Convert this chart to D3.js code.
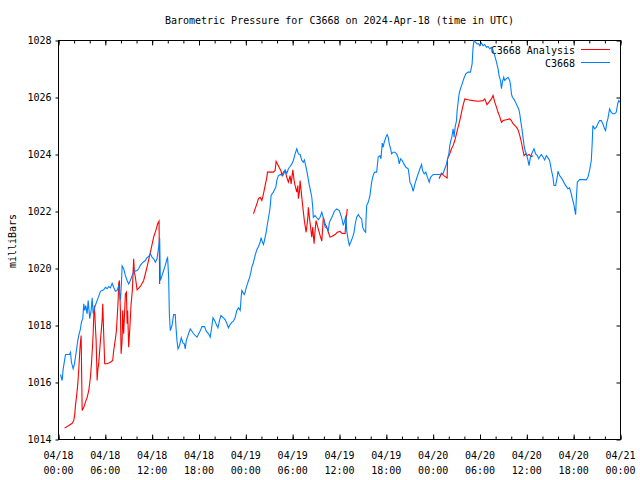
<!DOCTYPE html>
<html>
<head>
<meta charset="utf-8">
<script src="https://cdn.jsdelivr.net/npm/d3@7"></script>
<style>
  html, body { margin: 0; padding: 0; background: #fff; }
  svg { display: block; }
  text { font-family: "DejaVu Sans Mono", "Liberation Mono", monospace; font-size: 10px; fill: #000; }
</style>
</head>
<body>
<svg id="chart" width="640" height="480"></svg>
<script>
// ---- Data (hours since 2024-04-18 00:00 UTC, millibars) ----
const title = "Barometric Pressure for C3668 on 2024-Apr-18 (time in UTC)";
const yLabel = "milliBars";
const seriesNames = ["C3668 Analysis", "C3668"];
const yTicks = [1014, 1016, 1018, 1020, 1022, 1024, 1026, 1028];
const startTime = "2024-04-18T00:00:00Z";
const endHours = 72;

const stationData = [
[0.26,1016.28],[0.47,1016.07],[0.60,1016.48],[0.77,1016.77],[0.90,1016.98],[1.41,1016.98],[1.54,1017.06],[1.66,1016.71],
[1.88,1016.48],[2.05,1016.66],[2.26,1017.06],[2.47,1017.47],[2.60,1017.65],[2.81,1017.88],[2.94,1018.12],[3.11,1018.24],
[3.24,1018.76],[3.36,1018.53],[3.49,1018.70],[3.67,1018.41],[3.80,1018.88],[4.00,1018.24],[4.18,1018.53],[4.31,1018.97],
[4.44,1018.41],[4.64,1018.64],[4.95,1018.88],[5.15,1019.02],[5.37,1019.20],[5.59,1019.23],[5.79,1019.25],[6.01,1019.34],
[6.23,1019.29],[6.43,1019.37],[6.65,1019.32],[6.87,1019.48],[7.07,1019.34],[7.29,1019.20],[7.51,1019.23],[7.71,1019.40],
[7.93,1018.88],[8.06,1019.46],[8.15,1020.09],[8.35,1019.99],[8.57,1019.75],[8.79,1019.58],[8.99,1019.46],[9.21,1019.58],
[9.43,1019.75],[9.63,1019.87],[9.85,1019.91],[10.07,1019.93],[10.27,1019.99],[10.49,1020.11],[10.70,1020.19],[11.13,1020.28],
[11.34,1020.38],[11.55,1020.42],[11.77,1020.52],[11.98,1020.40],[12.19,1020.34],[12.41,1020.22],[12.62,1020.34],[12.83,1020.75],
[12.96,1021.08],[13.05,1019.58],[13.26,1019.75],[13.47,1019.93],[13.68,1020.11],[13.90,1020.34],[13.98,1020.38],[14.11,1019.69],
[14.20,1018.42],[14.32,1017.82],[14.54,1018.00],[14.75,1018.38],[14.96,1018.38],[15.05,1017.94],[15.18,1017.47],[15.31,1017.18],
[15.51,1017.30],[15.73,1017.57],[15.95,1017.38],[16.11,1017.36],[16.24,1017.18],[16.37,1017.47],[16.66,1017.71],[16.88,1017.88],
[17.10,1017.80],[17.30,1017.71],[17.74,1017.59],[18.07,1017.76],[18.38,1017.96],[18.71,1017.96],[18.93,1017.80],[19.22,1017.71],
[19.44,1017.59],[19.66,1018.00],[19.79,1018.27],[19.99,1018.18],[20.21,1018.04],[20.42,1017.92],[20.63,1018.18],[20.81,1018.35],
[21.14,1018.27],[21.36,1018.20],[21.58,1018.06],[21.78,1017.92],[22.00,1018.04],[22.22,1018.12],[22.42,1018.15],[22.64,1018.29],
[22.85,1018.53],[23.06,1018.62],[23.28,1018.53],[23.40,1018.99],[23.49,1019.23],[23.62,1019.17],[23.79,1019.09],[23.92,1019.17],
[24.04,1019.32],[24.21,1019.46],[24.34,1019.58],[24.47,1019.67],[24.65,1019.87],[24.77,1020.05],[24.98,1020.22],[25.19,1020.46],
[25.41,1020.66],[25.62,1020.77],[25.83,1020.92],[25.96,1021.08],[26.13,1020.92],[26.26,1020.84],[26.38,1020.98],[26.60,1021.27],
[26.77,1021.57],[26.99,1021.92],[27.11,1022.15],[27.24,1022.56],[27.41,1022.64],[27.53,1022.68],[27.66,1022.76],[27.84,1022.85],
[27.97,1023.09],[28.17,1023.26],[28.48,1023.30],[28.74,1023.26],[28.90,1023.34],[29.03,1023.46],[29.25,1023.34],[29.45,1023.50],
[29.67,1023.58],[29.89,1023.67],[30.09,1023.79],[30.31,1024.02],[30.53,1024.20],[30.73,1024.02],[30.95,1024.00],[31.17,1023.79],
[31.37,1023.73],[31.50,1023.81],[31.72,1023.55],[31.88,1023.32],[32.10,1022.97],[32.23,1022.80],[32.45,1022.50],[32.57,1022.15],
[32.65,1021.80],[32.87,1021.86],[33.09,1021.78],[33.29,1021.71],[33.51,1021.80],[33.73,1021.98],[33.93,1021.78],[34.15,1021.45],
[34.36,1021.43],[34.57,1021.33],[34.70,1021.62],[34.91,1021.74],[35.13,1021.86],[35.34,1022.01],[35.64,1022.09],[35.98,1022.03],
[36.28,1021.78],[36.49,1021.51],[36.67,1021.68],[36.83,1021.86],[36.92,1021.33],[37.13,1020.98],[37.26,1020.81],[37.43,1020.92],
[37.69,1021.10],[37.86,1021.27],[38.02,1021.57],[38.20,1021.80],[38.41,1021.89],[38.62,1021.80],[38.84,1021.74],[38.97,1021.45],
[39.17,1021.33],[39.35,1021.27],[39.39,1021.68],[39.48,1022.21],[39.69,1022.33],[39.90,1022.56],[40.12,1023.03],[40.25,1023.20],
[40.41,1023.34],[40.54,1023.38],[40.76,1023.38],[40.96,1023.91],[41.18,1023.96],[41.31,1023.85],[41.48,1024.40],[41.60,1024.26],
[41.73,1024.43],[41.95,1024.61],[42.11,1024.70],[42.24,1024.61],[42.37,1024.38],[42.55,1024.20],[42.68,1024.02],[42.88,1024.08],
[43.10,1024.08],[43.32,1024.02],[43.52,1023.88],[43.65,1023.67],[43.83,1023.85],[44.03,1023.79],[44.25,1023.67],[44.51,1023.55],
[44.80,1023.50],[44.93,1023.26],[45.02,1023.03],[45.24,1022.91],[45.44,1022.71],[45.66,1022.97],[45.87,1023.15],[46.08,1023.32],
[46.30,1023.50],[46.51,1023.65],[46.64,1023.44],[46.85,1023.32],[47.06,1023.38],[47.23,1023.23],[47.49,1023.03],[47.67,1023.20],
[48.00,1023.30],[48.43,1023.30],[48.85,1023.30],[49.28,1023.34],[49.49,1023.50],[49.71,1023.67],[49.84,1023.85],[50.01,1024.02],
[50.13,1024.32],[50.26,1024.49],[50.39,1024.61],[50.56,1024.90],[50.68,1024.61],[50.81,1024.96],[50.99,1025.19],[51.07,1025.54],
[51.20,1025.84],[51.32,1026.13],[51.50,1026.31],[51.71,1026.48],[51.92,1026.66],[52.18,1026.83],[52.47,1026.89],[52.78,1026.89],
[52.99,1027.18],[53.11,1027.76],[53.24,1028.00],[53.42,1027.94],[53.63,1027.88],[53.84,1027.88],[53.97,1027.82],[54.19,1027.91],
[54.39,1027.82],[54.61,1027.86],[54.83,1027.76],[55.03,1027.79],[55.25,1027.71],[55.47,1027.76],[55.67,1027.65],[55.89,1027.47],
[56.11,1027.24],[56.31,1027.01],[56.44,1026.77],[56.62,1026.60],[56.75,1026.31],[56.87,1026.54],[57.04,1026.71],[57.17,1026.60],
[57.39,1026.66],[57.59,1026.71],[57.81,1026.60],[57.94,1026.36],[58.03,1026.13],[58.15,1026.01],[58.32,1025.95],[58.54,1025.84],
[58.74,1025.72],[58.96,1025.60],[59.09,1025.43],[59.21,1025.19],[59.34,1024.96],[59.51,1024.61],[59.64,1024.32],[59.77,1024.14],
[59.94,1024.02],[60.15,1023.79],[60.28,1023.61],[60.46,1023.91],[60.71,1024.08],[60.92,1024.20],[61.13,1024.02],[61.35,1023.96],
[61.52,1023.85],[61.64,1023.91],[61.86,1024.00],[62.07,1023.91],[62.28,1023.81],[62.50,1023.96],[62.71,1023.88],[62.92,1023.79],
[63.14,1023.46],[63.35,1023.20],[63.47,1022.91],[63.69,1022.91],[63.86,1023.15],[63.99,1023.41],[64.20,1023.26],[64.42,1023.18],
[64.63,1023.09],[64.84,1022.97],[65.06,1022.88],[65.26,1022.80],[65.48,1022.83],[65.70,1022.62],[65.83,1022.45],[65.99,1022.29],
[66.12,1022.09],[66.25,1021.89],[66.34,1022.45],[66.47,1023.03],[66.76,1023.12],[67.18,1023.12],[67.62,1023.11],[67.82,1023.20],
[68.04,1023.44],[68.26,1023.79],[68.38,1024.43],[68.46,1025.02],[68.68,1024.90],[68.90,1024.96],[69.10,1025.08],[69.32,1025.19],
[69.54,1025.19],[69.74,1025.08],[69.96,1024.90],[70.09,1024.84],[70.25,1025.13],[70.38,1025.25],[70.60,1025.60],[70.82,1025.48],
[71.02,1025.43],[71.24,1025.43],[71.45,1025.48],[71.66,1025.80],[71.79,1025.89],[71.97,1025.83]
];

const analysisPart1 = [
[0.77,1014.40],[1.32,1014.49],[1.75,1014.57],[1.96,1014.67],[2.09,1014.90],[2.17,1015.19],[2.30,1015.48],[2.47,1015.95],
[2.60,1016.48],[2.72,1017.06],[2.81,1017.41],[2.90,1017.65],[3.03,1015.02],[3.24,1015.13],[3.45,1015.31],[3.67,1015.48],
[3.88,1015.72],[4.09,1016.19],[4.22,1016.66],[4.35,1017.24],[4.44,1017.71],[4.51,1018.29],[4.60,1018.70],[4.73,1017.94],
[4.82,1017.47],[4.95,1016.07],[5.03,1016.42],[5.15,1016.66],[5.37,1017.47],[5.59,1018.18],[5.67,1018.76],[5.79,1017.71],
[5.92,1016.66],[6.23,1016.66],[6.65,1016.71],[6.94,1016.77],[7.07,1017.12],[7.29,1017.53],[7.42,1017.82],[7.51,1018.24],
[7.64,1018.88],[7.71,1019.46],[7.80,1019.58],[7.93,1018.53],[8.02,1017.01],[8.15,1017.47],[8.22,1018.53],[8.35,1017.71],
[8.57,1019.11],[8.70,1019.17],[8.79,1018.06],[8.86,1018.53],[8.99,1017.24],[9.12,1017.82],[9.30,1018.76],[9.46,1019.23],
[9.63,1020.34],[9.72,1019.87],[9.85,1019.69],[10.07,1019.25],[10.49,1019.37],[10.91,1019.58],[11.34,1020.05],[11.77,1020.57],
[12.19,1021.10],[12.53,1021.39],[12.70,1021.57],[12.88,1021.66],[12.96,1019.46]
];

const analysisPart2 = [
[24.98,1021.92],[25.19,1022.09],[25.41,1022.27],[25.62,1022.45],[25.83,1022.50],[26.05,1022.39],[26.26,1022.62],[26.47,1022.91],
[26.69,1023.20],[26.77,1023.38],[27.11,1023.38],[27.53,1023.38],[27.75,1023.44],[27.88,1023.76],[28.05,1023.67],[28.26,1023.55],
[28.48,1023.44],[28.65,1023.26],[28.81,1023.38],[29.03,1023.44],[29.25,1023.20],[29.45,1023.03],[29.67,1023.26],[29.80,1022.97],
[30.02,1023.46],[30.18,1023.09],[30.31,1022.91],[30.53,1022.68],[30.66,1022.91],[30.73,1022.45],[30.86,1022.68],[30.95,1023.09],
[31.08,1022.74],[31.21,1022.39],[31.37,1021.98],[31.50,1021.68],[31.72,1021.27],[31.93,1021.74],[32.01,1022.15],[32.14,1021.80],
[32.32,1021.39],[32.45,1021.10],[32.57,1021.45],[32.74,1020.87],[32.87,1021.33],[33.00,1021.68],[33.16,1021.51],[33.34,1021.33],
[33.51,1021.16],[33.73,1020.96],[33.85,1021.45],[33.93,1021.80],[34.15,1021.57],[34.36,1021.45],[34.57,1021.27],[34.79,1021.10],
[35.00,1021.12],[35.43,1021.19],[35.72,1021.27],[36.07,1021.30],[36.28,1021.24],[36.71,1021.22],[36.83,1021.68],[37.00,1022.09]
];

const analysisPart3 = [
[48.76,1023.15],[49.07,1023.34],[49.37,1023.26],[49.79,1023.18],[49.84,1023.85],[50.04,1023.96],[50.35,1024.20],[50.56,1024.32],
[50.77,1024.49],[50.99,1024.73],[51.19,1024.96],[51.41,1025.19],[51.63,1025.48],[51.83,1025.72],[52.05,1025.95],[52.47,1025.92],
[53.11,1025.89],[53.75,1025.87],[54.39,1025.89],[54.61,1025.95],[54.90,1025.75],[55.16,1025.84],[55.47,1025.95],[55.67,1026.07],
[55.89,1025.84],[56.11,1025.66],[56.31,1025.48],[56.53,1025.33],[56.75,1025.13],[56.95,1025.19],[57.38,1025.22],[57.81,1025.25],
[58.02,1025.19],[58.23,1025.08],[58.45,1025.02],[58.66,1024.96],[58.87,1024.87],[59.09,1024.67],[59.30,1024.43],[59.51,1024.14],
[59.64,1023.96],[59.85,1024.02],[60.02,1023.96],[60.28,1024.00],[60.58,1023.93],[60.79,1023.96]
];

const colors = { analysis: "#ff0000", station: "#0080ff" };

// ---- Drawing ----
const svg = d3.select("#chart");
const W = 640, H = 480;
const plot = { left: 58.5, right: 620.5, top: 40.5, bottom: 439.5 };

const t0 = new Date(startTime);
const toDate = h => new Date(t0.getTime() + h * 3600000);

const x = d3.scaleUtc().domain([t0, toDate(endHours)]).range([plot.left, plot.right]);
const y = d3.scaleLinear().domain([1014, 1028]).range([plot.bottom, plot.top]);

svg.append("rect").attr("width", W).attr("height", H).attr("fill", "#fff");

svg.append("defs").append("clipPath").attr("id", "clip")
  .append("rect").attr("x", plot.left).attr("y", plot.top - 1)
  .attr("width", plot.right - plot.left).attr("height", plot.bottom - plot.top + 1);

// Title
svg.append("text").attr("x", (plot.left + plot.right) / 2).attr("y", 24)
  .attr("text-anchor", "middle").text(title);

// Y axis label
svg.append("text").attr("transform", "translate(16,241) rotate(-90)")
  .attr("text-anchor", "middle").text(yLabel);

const majorTimes = d3.range(0, endHours + 1, 6).map(toDate);
const minorTimes = d3.range(0, endHours + 1, 2).map(toDate);

// Bottom axis (ticks inward), labels two lines
const bottomAxis = d3.axisBottom(x).tickValues(minorTimes).tickSize(-3).tickFormat("");
const gB = svg.append("g").attr("transform", `translate(0,${plot.bottom})`).call(bottomAxis);
const bottomMajor = d3.axisBottom(x).tickValues(majorTimes).tickSize(-5).tickFormat("");
const gBM = svg.append("g").attr("transform", `translate(0,${plot.bottom})`).call(bottomMajor);
[gB, gBM].forEach(g => { g.select(".domain").remove(); g.selectAll("line").attr("stroke", "#000"); });

const fmtDate = d3.utcFormat("%m/%d"), fmtTime = d3.utcFormat("%H:%M");
const labels = svg.append("g");
majorTimes.forEach(d => {
  const t = labels.append("text").attr("text-anchor", "middle").attr("x", x(d));
  t.append("tspan").attr("x", x(d)).attr("y", 459).text(fmtDate(d));
  t.append("tspan").attr("x", x(d)).attr("y", 474).text(fmtTime(d));
});

// Top axis (ticks inward)
const topAxis = d3.axisTop(x).tickValues(minorTimes).tickSize(-3).tickFormat("");
const gT = svg.append("g").attr("transform", `translate(0,${plot.top})`).call(topAxis);
const topMajor = d3.axisTop(x).tickValues(majorTimes).tickSize(-5).tickFormat("");
const gTM = svg.append("g").attr("transform", `translate(0,${plot.top})`).call(topMajor);
[gT, gTM].forEach(g => { g.select(".domain").remove(); g.selectAll("line").attr("stroke", "#000"); });

// Left axis
const leftAxis = d3.axisLeft(y).tickValues(yTicks).tickSize(3).tickPadding(4).tickFormat(d3.format("d"));
const gL = svg.append("g").attr("transform", `translate(${plot.left},0)`).call(leftAxis);
gL.select(".domain").remove();
gL.selectAll("line").attr("stroke", "#000");
gL.selectAll("text").attr("font-family", null).attr("font-size", null).attr("fill", "#000");

// Right axis (ticks inward)
const rightAxis = d3.axisRight(y).tickValues(yTicks).tickSize(-4).tickFormat("");
const gR = svg.append("g").attr("transform", `translate(${plot.right},0)`).call(rightAxis);
gR.select(".domain").remove();
gR.selectAll("line").attr("stroke", "#000");

// Border
svg.append("rect").attr("x", plot.left).attr("y", plot.top)
  .attr("width", plot.right - plot.left).attr("height", plot.bottom - plot.top)
  .attr("fill", "none").attr("stroke", "#000").attr("stroke-width", 1);

// Legend
const legend = svg.append("g");
const legendY = [50, 63];
seriesNames.forEach((name, i) => {
  legend.append("text").attr("x", 575).attr("y", legendY[i]).attr("dy", "0.35em")
    .attr("text-anchor", "end").text(name);
  legend.append("line").attr("x1", 581).attr("x2", 610)
    .attr("y1", legendY[i] - 0.5).attr("y2", legendY[i] - 0.5)
    .attr("stroke", i === 0 ? colors.analysis : colors.station).attr("stroke-width", 1);
});

// Lines
const line = d3.line().x(d => x(toDate(d[0]))).y(d => y(d[1]));
const lines = svg.append("g").attr("clip-path", "url(#clip)");
[analysisPart1, analysisPart2, analysisPart3].forEach(part => {
  lines.append("path").datum(part).attr("d", line)
    .attr("fill", "none").attr("stroke", colors.analysis).attr("stroke-width", 1.1);
});
lines.append("path").datum(stationData).attr("d", line)
  .attr("fill", "none").attr("stroke", colors.station).attr("stroke-width", 1.1);
</script>
</body>
</html>
